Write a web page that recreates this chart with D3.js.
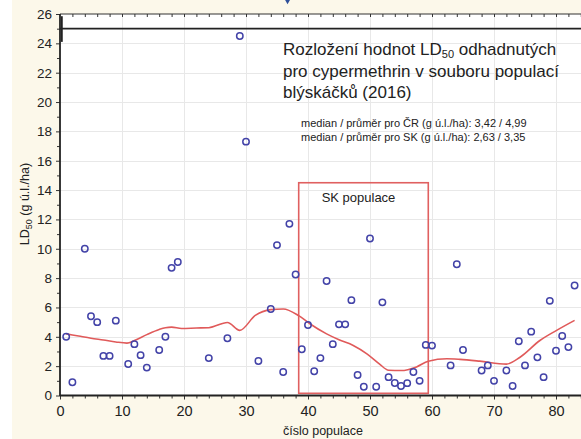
<!DOCTYPE html>
<html>
<head>
<meta charset="utf-8">
<script src="https://cdn.jsdelivr.net/npm/d3@7/dist/d3.min.js"></script>
<style>
  html, body { margin: 0; padding: 0; background: #ffffff; }
  svg { display: block; font-family: "Liberation Sans", Arial, sans-serif; }
</style>
</head>
<body>
<svg id="chart" width="581" height="439"></svg>
<script>
// Population number and estimated LD50 (g a.i./ha) per population
const populace = [1, 2, 4, 5, 6, 7, 8, 9, 11, 12, 13, 14, 16, 17, 18, 19, 24, 27, 29, 30,
  32, 34, 35, 36, 37, 38, 39, 40, 41, 42, 43, 44, 45, 46, 47, 48, 49, 50, 51, 52,
  53, 54, 55, 56, 57, 58, 59, 60, 63, 64, 65, 68, 69, 70, 72, 73, 74, 75, 76, 77,
  78, 79, 80, 81, 82, 83];
const ld50 = [4.0, 0.9, 10.0, 5.4, 5.0, 2.7, 2.7, 5.1, 2.15, 3.5, 2.75, 1.9, 3.1, 4.0, 8.7, 9.1, 2.55, 3.9, 24.5, 17.3,
  2.35, 5.9, 10.25, 1.6, 11.7, 8.25, 3.15, 4.8, 1.65, 2.55, 7.8, 3.5, 4.85, 4.85, 6.5, 1.4, 0.6, 10.7, 0.6, 6.35,
  1.25, 0.85, 0.65, 0.84, 1.6, 1.0, 3.45, 3.4, 2.05, 8.95, 3.1, 1.7, 2.05, 1.0, 1.7, 0.65, 3.7, 2.05, 4.35, 2.6,
  1.25, 6.45, 3.05, 4.05, 3.3, 7.5];

// Smoothed trend through the values
const trendX = [1, 3, 5, 7, 9, 10.8, 12, 14, 16, 17, 18, 19.6, 22, 24, 27, 29, 31.5, 34, 36, 38.5,
  40.3, 43, 45, 47.3, 49.5, 51.5, 53, 55, 57.5, 59.4, 62.4, 64.5, 67.7, 72, 74.2, 77.4, 80.1, 83];
const trendY = [4.2, 4.05, 3.9, 3.78, 3.65, 3.57, 3.75, 4.15, 4.5, 4.62, 4.66, 4.57, 4.6, 4.62, 4.98, 4.44, 5.46, 5.85, 5.9, 5.44,
  4.89, 4.2, 3.8, 3.41, 2.84, 2.16, 1.72, 1.7, 1.95, 2.34, 2.5, 2.46, 2.34, 2.14, 2.61, 3.75, 4.44, 5.12];

// Region of the Slovak populations
const skBox = { x0: 38.5, x1: 59.4, y0: 0.15, y1: 14.5 };
const referenceLevel = 25;

const xTicks = [0, 10, 20, 30, 40, 50, 60, 70, 80];
const yTicks = [0, 2, 4, 6, 8, 10, 12, 14, 16, 18, 20, 22, 24, 26];

const titleLines = ["Rozložení hodnot LD|50| odhadnutých", "pro cypermethrin v souboru populací", "blýskáčků (2016)"];
const statLines = ["median / průměr pro ČR (g ú.l./ha): 3,42 / 4,99", "median / průměr pro SK (g ú.l./ha): 2,63 / 3,35"];

const svg = d3.select("#chart");
const W = 581, H = 439;
const plotLeft = 60, plotTop = 14, plotBottom = 395.5;

const x = d3.scaleLinear().domain([0, 86]).range([plotLeft, plotLeft + 86 * 6.2]);
const y = d3.scaleLinear().domain([0, 26]).range([plotBottom, plotTop]);

// Cream page background with white plotting area
svg.append("rect").attr("x", 12).attr("y", 0).attr("width", W - 12).attr("height", H).attr("fill", "#fcf8ea");
svg.append("rect").attr("x", plotLeft).attr("y", plotTop).attr("width", W - plotLeft).attr("height", plotBottom - plotTop).attr("fill", "#ffffff");

// Grid
const grid = svg.append("g").attr("stroke", "#e8e8e8").attr("stroke-width", 1);
grid.selectAll(".gy").data(yTicks.slice(1, -1)).join("line")
  .attr("x1", plotLeft).attr("x2", W).attr("y1", d => Math.round(y(d)) + 0.5).attr("y2", d => Math.round(y(d)) + 0.5);
grid.selectAll(".gx").data(xTicks.slice(1)).join("line")
  .attr("y1", plotTop).attr("y2", plotBottom).attr("x1", d => Math.round(x(d)) + 0.5).attr("x2", d => Math.round(x(d)) + 0.5);

// Axes
const yAxis = d3.axisLeft(y).tickValues(yTicks).tickSize(4).tickPadding(4).tickFormat(d3.format("d"));
const yMinor = d3.axisLeft(y).tickValues(d3.range(1, 26, 2)).tickSize(3).tickFormat("");
const xAxis = d3.axisBottom(x).tickValues(xTicks).tickSize(4).tickPadding(6).tickFormat(d3.format("d"));
const xMinor = d3.axisBottom(x).tickValues(d3.range(2, 86, 2)).tickSize(3).tickFormat("");
const xTop = d3.axisBottom(x).tickValues(d3.range(2, 86, 2)).tickSize(3).tickFormat("");

function styleAxis(size) {
  return g => {
    g.select(".domain").remove();
    g.selectAll("line").attr("stroke", "#333");
    g.selectAll("text").attr("fill", "#222").attr("font-size", size)
      .attr("font-family", "'Liberation Sans', Arial, sans-serif");
  };
}
svg.append("g").attr("transform", `translate(${plotLeft},0)`).call(yAxis).call(styleAxis("13.5px"));
svg.append("g").attr("transform", `translate(${plotLeft},0)`).call(yMinor).call(styleAxis("13.5px"));
svg.append("g").attr("transform", `translate(0,${plotBottom})`).call(xAxis).call(styleAxis("14.5px"));
svg.append("g").attr("transform", `translate(0,${plotBottom})`).call(xMinor).call(styleAxis("14.5px"));
svg.append("g").attr("transform", `translate(0,${plotTop})`).call(xTop).call(styleAxis("14.5px"));

// Frame lines
svg.append("line").attr("x1", plotLeft).attr("x2", W).attr("y1", plotTop).attr("y2", plotTop).attr("stroke", "#333").attr("stroke-width", 1.2);
svg.append("line").attr("x1", plotLeft).attr("x2", plotLeft).attr("y1", plotTop).attr("y2", plotBottom + 0.5).attr("stroke", "#222").attr("stroke-width", 1.8);
svg.append("line").attr("x1", plotLeft).attr("x2", W).attr("y1", plotBottom).attr("y2", plotBottom).attr("stroke", "#222").attr("stroke-width", 1.8);

// Reference level line
svg.append("line").attr("x1", plotLeft).attr("x2", W).attr("y1", y(referenceLevel)).attr("y2", y(referenceLevel))
  .attr("stroke", "#222").attr("stroke-width", 1.6);
svg.append("line").attr("x1", x(0.3)).attr("x2", x(0.3)).attr("y1", y(25.85)).attr("y2", y(24.1))
  .attr("stroke", "#222").attr("stroke-width", 1.8);

// Marker above the plot
svg.append("path").attr("d", d3.symbol(d3.symbolDiamond, 60)()).attr("transform", `translate(${x(36.7)},-3)`)
  .attr("fill", "#2d4f9a");

// SK region box
svg.append("rect").attr("x", x(skBox.x0)).attr("y", y(skBox.y1))
  .attr("width", x(skBox.x1) - x(skBox.x0)).attr("height", y(skBox.y0) - y(skBox.y1))
  .attr("fill", "none").attr("stroke", "#e06060").attr("stroke-width", 1.6);
svg.append("text").attr("x", x(42.2)).attr("y", y(13.2)).attr("font-size", "13px").attr("fill", "#222")
  .text("SK populace");

// Trend line
const trend = trendX.map((d, i) => [d, trendY[i]]);
svg.append("path").datum(trend)
  .attr("d", d3.line().x(d => x(d[0])).y(d => y(d[1])).curve(d3.curveMonotoneX))
  .attr("fill", "none").attr("stroke", "#e05a5a").attr("stroke-width", 1.6);

// Points
svg.append("g").selectAll("circle").data(populace).join("circle")
  .attr("cx", d => x(d)).attr("cy", (d, i) => y(ld50[i])).attr("r", 3.2)
  .attr("fill", "none").attr("stroke", "#4343a8").attr("stroke-width", 1.5);

// Title
const title = svg.append("text").attr("x", 283).attr("font-size", "17px").attr("fill", "#222");
titleLines.forEach((line, i) => {
  const parts = line.split("|");
  title.append("tspan").attr("x", 283).attr("y", 55 + i * 21.5).text(parts[0]);
  if (parts.length > 1) {
    title.append("tspan").attr("font-size", "11px").attr("dy", 3).text(parts[1]);
    title.append("tspan").attr("dy", -3).text(parts[2]);
  }
});

// Statistics
svg.append("g").selectAll("text").data(statLines).join("text")
  .attr("x", 301).attr("y", (d, i) => 127 + i * 14).attr("font-size", "11px").attr("fill", "#222")
  .text(d => d);

// Axis titles
svg.append("text").attr("x", 323).attr("y", 435).attr("text-anchor", "middle").attr("font-size", "12.5px")
  .attr("fill", "#222").text("číslo populace");
const yl = svg.append("text").attr("transform", "translate(29,204) rotate(-90)").attr("text-anchor", "middle")
  .attr("font-size", "12.5px").attr("fill", "#222");
yl.append("tspan").text("LD");
yl.append("tspan").attr("font-size", "9px").attr("dy", 3).text("50");
yl.append("tspan").attr("dy", -3).text(" (g ú.l./ha)");
</script>
</body>
</html>
